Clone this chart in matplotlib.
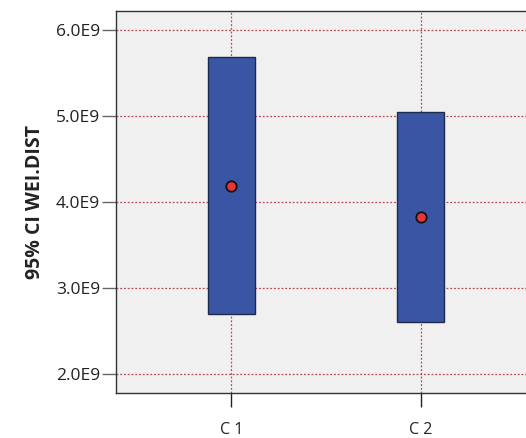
import matplotlib
matplotlib.use("Agg")
import matplotlib.pyplot as plt
from matplotlib.patches import Rectangle

# Confidence intervals per group
groups = ["C 1", "C 2"]
ci_lower = [2.70e9, 2.60e9]
ci_upper = [5.69e9, 5.05e9]
means = [4.19e9, 3.82e9]
yticks = [2.0e9, 3.0e9, 4.0e9, 5.0e9, 6.0e9]
ytick_labels = ["2.0E9", "3.0E9", "4.0E9", "5.0E9", "6.0E9"]

W, H = 526, 438
fig = plt.figure(figsize=(W / 100, H / 100), dpi=100)
ax = fig.add_axes([116 / W, 1 - 393 / H, (536 - 116) / W, (393 - 11) / H])
ax.set_facecolor("#f0f0f0")

xpos = list(range(1, len(groups) + 1))
bar_w = 0.253
grid_kw = dict(color="#b34a55", linestyle=(0, (1.5, 1.5)), linewidth=0.9, zorder=1)
for y in yticks:
    ax.axhline(y, **grid_kw)
for x in xpos:
    ax.axvline(x, **grid_kw)

for x, lo, hi, m in zip(xpos, ci_lower, ci_upper, means):
    ax.add_patch(Rectangle((x - bar_w / 2, lo), bar_w, hi - lo,
                           facecolor="#3a55a4", edgecolor="#1e2a4a",
                           linewidth=1.0, zorder=3))
    ax.plot([x], [m], marker="o", markersize=7.5, markerfacecolor="#e8343a",
            markeredgecolor="#111111", markeredgewidth=1.3, zorder=4)

ax.set_xlim(1 - 0.611, 2 + 0.611)
ax.set_ylim(1.78e9, 6.22e9)
ax.set_yticks(yticks)
ax.set_yticklabels(ytick_labels)
ax.set_xticks(xpos)
ax.set_xticklabels(groups)

font = "Open Sans"
for lbl in ax.get_yticklabels():
    lbl.set_fontfamily(font)
    lbl.set_fontsize(12.5)
    lbl.set_color("#222222")
for lbl in ax.get_xticklabels():
    lbl.set_fontfamily(font)
    lbl.set_fontsize(11.5)
    lbl.set_color("#222222")

ax.tick_params(axis="y", length=10, width=1.0, color="#666666", pad=1.5)
ax.tick_params(axis="x", length=10, width=1.0, color="#222222", pad=11)

for side in ["left", "bottom", "top"]:
    ax.spines[side].set_color("#333333")
    ax.spines[side].set_linewidth(1.0)
ax.spines["right"].set_visible(False)

ax.set_ylabel("95% CI WEI.DIST", fontfamily=font, fontweight="bold",
              fontsize=14, color="#222222", labelpad=8)

fig.savefig("out.png", dpi=100)
